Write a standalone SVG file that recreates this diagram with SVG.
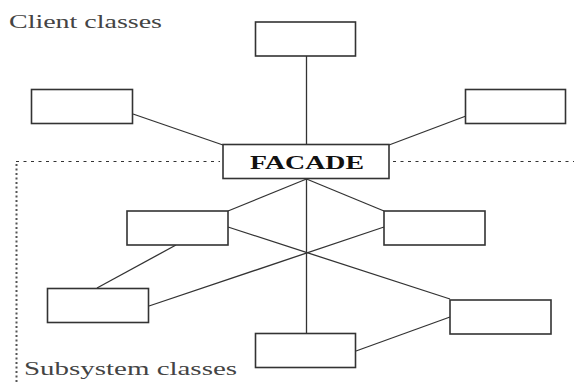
<svg xmlns="http://www.w3.org/2000/svg" width="574" height="383" viewBox="0 0 574 383">
  <style>
    .box { fill: #fff; stroke: #333; stroke-width: 1.6; }
    .link { stroke: #333; stroke-width: 1.3; fill: none; }
    .label { font-family: "Liberation Serif", "DejaVu Serif", serif; font-size: 19px; fill: #444; }
    .title { font-family: "Liberation Serif", "DejaVu Serif", serif; font-size: 19px; font-weight: bold; fill: #111; }
    .boundary { stroke: #333; stroke-width: 1.2; fill: none; }
  </style>
  <rect width="574" height="383" fill="#fff"/>

  <!-- layer boundary -->
  <g id="boundary">
    <line class="boundary" x1="16" y1="161.5" x2="220" y2="161.5" stroke-dasharray="3,4.5"/>
    <line class="boundary" x1="393" y1="161.5" x2="574" y2="161.5" stroke-dasharray="3,4.5"/>
    <line x1="16.5" y1="164" x2="16.5" y2="383" stroke="#555" stroke-width="2" stroke-dasharray="2,2.5"/>
  </g>

  <text class="label" x="9" y="28" textLength="153" lengthAdjust="spacingAndGlyphs">Client classes</text>
  <text class="label" x="24" y="375" textLength="213" lengthAdjust="spacingAndGlyphs">Subsystem classes</text>

  <!-- connectors -->
  <g id="connectors">
    <line class="link" x1="306.5" y1="56" x2="306.5" y2="144"/>
    <line class="link" x1="133" y1="114" x2="223" y2="145"/>
    <line class="link" x1="466" y1="116" x2="389" y2="145"/>
    <line class="link" x1="306.5" y1="178" x2="306.5" y2="333"/>
    <line class="link" x1="306.5" y1="179" x2="228" y2="211"/>
    <line class="link" x1="306.5" y1="179" x2="384" y2="211"/>
    <line class="link" x1="228" y1="227" x2="450" y2="299"/>
    <line class="link" x1="384" y1="227" x2="149" y2="306"/>
    <line class="link" x1="176" y1="245" x2="97" y2="288"/>
    <line class="link" x1="356" y1="351" x2="450" y2="317"/>
  </g>

  <!-- client classes -->
  <g id="client-top"><rect class="box" x="255.5" y="22" width="100" height="34"/></g>
  <g id="client-left"><rect class="box" x="31.5" y="89.5" width="101" height="34"/></g>
  <g id="client-right"><rect class="box" x="465.5" y="89.5" width="100" height="34"/></g>

  <!-- facade -->
  <g id="facade">
    <rect class="box" x="223" y="144.5" width="166" height="34"/>
    <text class="title" x="250" y="168.5" textLength="114" lengthAdjust="spacingAndGlyphs">FACADE</text>
  </g>

  <!-- subsystem classes -->
  <g id="sub-upper-left"><rect class="box" x="127" y="211" width="101" height="34"/></g>
  <g id="sub-upper-right"><rect class="box" x="384" y="211" width="101" height="34"/></g>
  <g id="sub-lower-left"><rect class="box" x="47.5" y="288.5" width="101" height="34"/></g>
  <g id="sub-lower-right"><rect class="box" x="450" y="300" width="101" height="34"/></g>
  <g id="sub-bottom"><rect class="box" x="255.5" y="333.5" width="100" height="34"/></g>
</svg>
